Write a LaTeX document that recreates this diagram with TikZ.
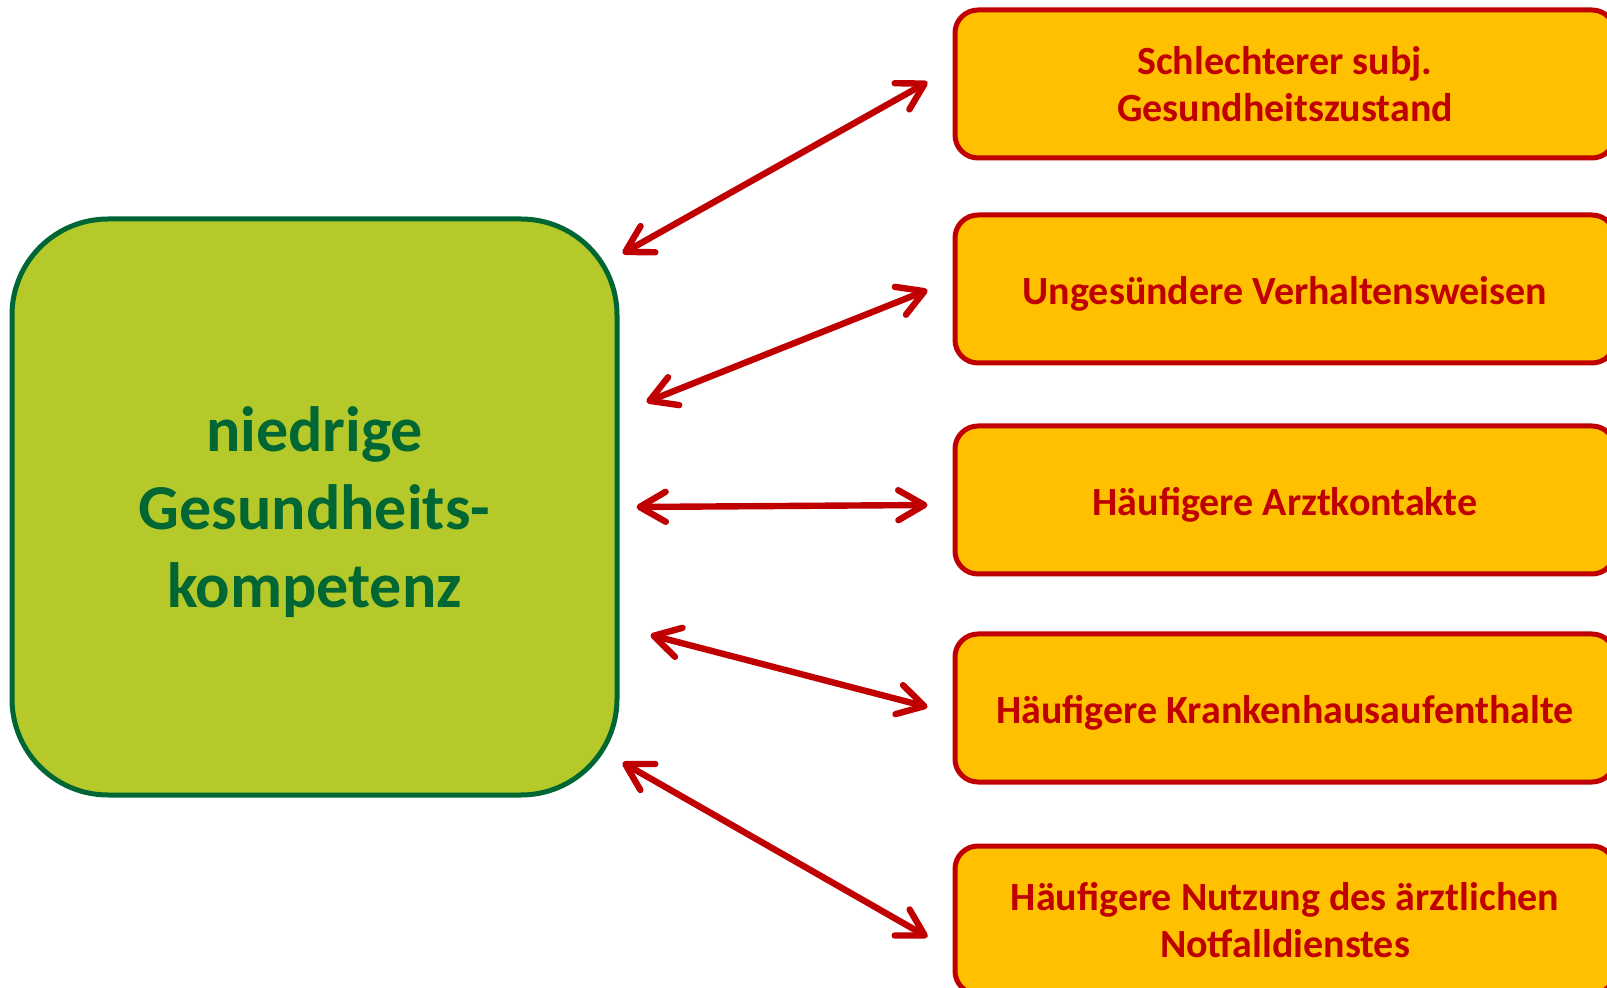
\documentclass[tikz,border=0pt]{standalone}
\usepackage{fontspec}
\setmainfont{Carlito}
\usetikzlibrary{arrows.meta,calc}
\definecolor{kompgruen}{HTML}{B5C92A}
\definecolor{dunkelgruen}{HTML}{006633}
\definecolor{folgerot}{HTML}{C00000}
\definecolor{folgeorange}{HTML}{FFC000}
\begin{document}
\begin{tikzpicture}[x=0.5pt,y=-0.5pt,
    kompbox/.style={draw=dunkelgruen,line width=2.5pt,fill=kompgruen,rounded corners=48pt,
      minimum width=302.5pt,minimum height=288pt,align=center,text=dunkelgruen,
      font=\fontsize{32}{39}\selectfont\bfseries},
    folgebox/.style={draw=folgerot,line width=2.5pt,fill=folgeorange,rounded corners=11.5pt,
      minimum width=330pt,minimum height=74pt,align=center,text=folgerot,
      font=\fontsize{20}{23.5}\selectfont\bfseries},
    einzeilig/.style={text height=19.5pt,text depth=4pt},
    pfeil/.style={draw=folgerot,line width=3.2pt,line cap=round,{Straight Barb[round,length=13pt,width=15pt]}-{Straight Barb[round,length=13pt,width=15pt]}}]
  \useasboundingbox (0,0) rectangle (1607,988);
  % left box
  \node[kompbox] (komp) at (314.5,507) {\rule{0pt}{28pt}niedrige\\Gesundheits-\\kompetenz};
  % five boxes on the right
  \node[folgebox] (zustand) at (1285,84) {Schlechterer subj.\\Gesundheitszustand};
  \node[folgebox,einzeilig] (verhalten) at (1285,289) {Ungesündere Verhaltensweisen};
  \node[folgebox,einzeilig] (arzt) at (1285,500) {Häufigere Arztkontakte};
  \node[folgebox,einzeilig] (kranken) at (1285,708) {Häufigere Krankenhausaufenthalte};
  \node[folgebox] (notfall) at (1285,920) {Häufigere Nutzung des ärztlichen\\Notfalldienstes};
  % five arrows
  \draw[pfeil] ($(komp.north east)+(3,37)$) -- ($(zustand.west)+(-25,-2)$);
  \draw[pfeil] ($(komp.east)+(27,-105)$) -- ($(verhalten.west)+(-25,1)$);
  \draw[pfeil] ($(komp.east)+(17,0)$) -- ($(arzt.west)+(-25,5)$);
  \draw[pfeil] ($(komp.east)+(31,128)$) -- ($(kranken.west)+(-25,-1)$);
  \draw[pfeil] ($(komp.south east)+(3,-35)$) -- ($(notfall.west)+(-25,17)$);
\end{tikzpicture}
\end{document}
